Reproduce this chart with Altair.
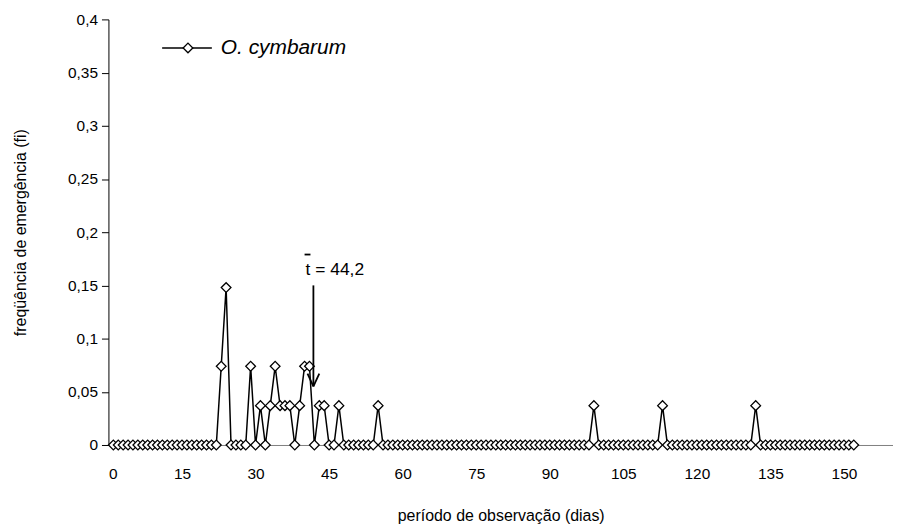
import altair as alt
import pandas as pd

# ---- data ----
days = list(range(1, 153))
freq = [
    0, 0, 0, 0, 0, 0, 0, 0, 0, 0,                 # 1-10
    0, 0, 0, 0, 0, 0, 0, 0, 0, 0,                 # 11-20
    0, 0, 0.074, 0.148, 0, 0, 0, 0, 0.074, 0,     # 21-30
    0.037, 0, 0.037, 0.074, 0.037, 0.037, 0.037, 0, 0.037, 0.074,  # 31-40
    0.074, 0, 0.037, 0.037, 0, 0, 0.037, 0, 0, 0,  # 41-50
    0, 0, 0, 0, 0.037, 0, 0, 0, 0, 0,             # 51-60
    0, 0, 0, 0, 0, 0, 0, 0, 0, 0,                 # 61-70
    0, 0, 0, 0, 0, 0, 0, 0, 0, 0,                 # 71-80
    0, 0, 0, 0, 0, 0, 0, 0, 0, 0,                 # 81-90
    0, 0, 0, 0, 0, 0, 0, 0, 0.037, 0,             # 91-100
    0, 0, 0, 0, 0, 0, 0, 0, 0, 0,                 # 101-110
    0, 0, 0.037, 0, 0, 0, 0, 0, 0, 0,             # 111-120
    0, 0, 0, 0, 0, 0, 0, 0, 0, 0,                 # 121-130
    0, 0.037, 0, 0, 0, 0, 0, 0, 0, 0,             # 131-140
    0, 0, 0, 0, 0, 0, 0, 0, 0, 0,                 # 141-150
    0, 0,                                          # 151-152
]
x_ticks = [0, 15, 30, 45, 60, 75, 90, 105, 120, 135, 150]
y_ticks = [0, 0.05, 0.1, 0.15, 0.2, 0.25, 0.3, 0.35, 0.4]
series_name = "O. cymbarum"
x_title = "período de observação (dias)"
y_title = "freqüência de emergência (fi)"

# annotation (mean marker)
mean_label = ["t = 44,2"]
mean_label_x = [40.2]
mean_label_y = [0.1645]
# segments: overline over t, arrow shaft, arrow wings
seg_x = [40.0, 41.8, 40.6, 43.0]
seg_y = [0.179, 0.150, 0.067, 0.067]
seg_x2 = [41.2, 41.8, 41.8, 41.8]
seg_y2 = [0.179, 0.055, 0.055, 0.055]

FONT = "Liberation Sans"

df = pd.DataFrame({"dia": days, "fi": freq})
df_txt = pd.DataFrame({"dia": mean_label_x, "fi": mean_label_y, "label": mean_label})
df_seg = pd.DataFrame({"dia": seg_x, "fi": seg_y, "dia2": seg_x2, "fi2": seg_y2})

x_axis = alt.Axis(
    values=x_ticks, title=x_title, ticks=False, tickSize=0, labelPadding=22,
    labelFontSize=15.5, labelFont=FONT, labelColor="#000",
    titleFontSize=16, titleFont=FONT, titleFontWeight="normal", titleColor="#000",
    titleY=71, titleBaseline="middle",
    domainColor="#808080", domainWidth=1, grid=False,
)
y_axis = alt.Axis(
    values=y_ticks, labelExpr="replace(toString(datum.value), '.', ',')",
    title=y_title, tickSize=7, tickColor="#000", labelPadding=4,
    labelFontSize=15.5, labelFont=FONT, labelColor="#000",
    titleFontSize=16, titleFont=FONT, titleFontWeight="normal", titleColor="#000",
    titleX=-88, titleY=214, titleAngle=270, titleBaseline="middle", titleAlign="center",
    domainColor="#000", domainWidth=1, grid=False,
)
x_enc = alt.X("dia:Q", scale=alt.Scale(domain=[0, 160], nice=False, zero=False), axis=x_axis)
y_enc = alt.Y("fi:Q", scale=alt.Scale(domain=[0, 0.4], nice=False), axis=y_axis)

base = alt.Chart(df)
line = base.mark_line(color="black", strokeWidth=1.5).encode(x=x_enc, y=y_enc)
pts = base.mark_point(shape="diamond", filled=True, fill="white", stroke="black",
                      strokeWidth=1.3, size=95, opacity=1).encode(x=x_enc, y=y_enc)

ann_text = alt.Chart(df_txt).mark_text(
    align="left", baseline="middle", fontSize=17.5, font=FONT, color="black"
).encode(x=x_enc, y=y_enc, text="label:N")
ann_seg = alt.Chart(df_seg).mark_rule(color="black", strokeWidth=1.8).encode(
    x=x_enc, y=y_enc, x2="dia2:Q", y2="fi2:Q"
)

leg_df = pd.DataFrame({"k": [series_name]})
leg_rule = alt.Chart(leg_df).mark_rule(color="black", strokeWidth=1.5).encode(
    x=alt.value(54), x2=alt.value(104), y=alt.value(28.7)
)
leg_pt = alt.Chart(leg_df).mark_point(
    shape="diamond", filled=True, fill="white", stroke="black", strokeWidth=1.3, size=95, opacity=1
).encode(x=alt.value(80), y=alt.value(28.7))
leg_txt = alt.Chart(leg_df).mark_text(
    align="left", baseline="middle", fontSize=21, fontStyle="italic", font=FONT, color="black"
).encode(x=alt.value(113), y=alt.value(28.7), text="k:N")

chart = alt.layer(line, pts, ann_seg, ann_text, leg_rule, leg_pt, leg_txt).properties(
    width=789, height=428,
    autosize=alt.AutoSizeParams(type="none"),
    padding={"left": 101, "top": 10, "right": 0, "bottom": 80},
    background="white",
).configure_view(stroke=None)

chart.save("out.html", embed_options={"renderer": "svg", "actions": False})
